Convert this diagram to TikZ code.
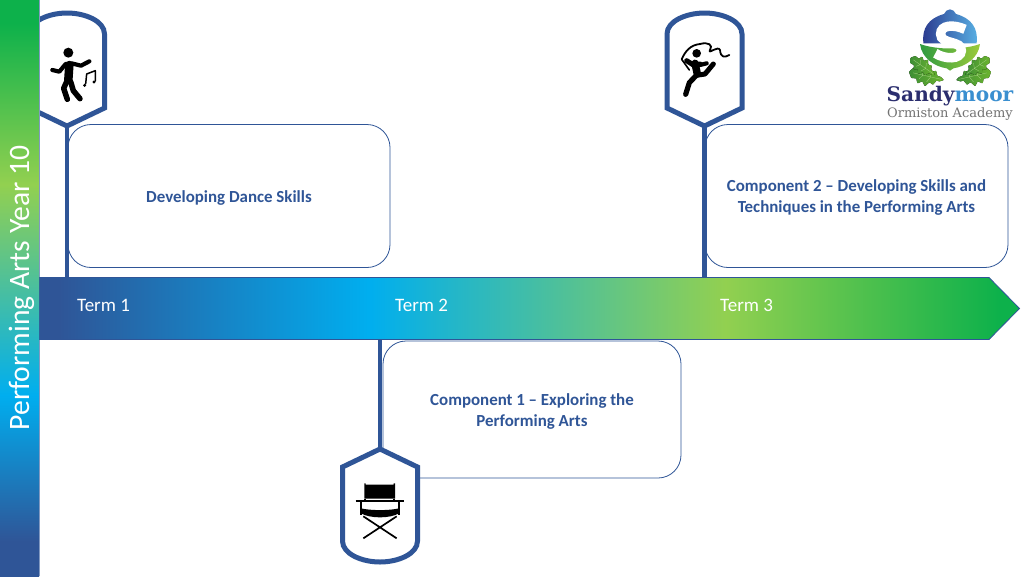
\documentclass[tikz,border=0pt]{standalone}
\usepackage{fontspec}
\setmainfont{Carlito}
\newfontfamily\logofont{DejaVu Serif}
\usetikzlibrary{calc}
\definecolor{navy}{HTML}{2F5597}
\definecolor{cyanb}{HTML}{00AEEF}
\definecolor{limeb}{HTML}{92D050}
\definecolor{greenb}{HTML}{0DB14B}
\definecolor{capdark}{HTML}{2B3A8F}
\definecolor{caplight}{HTML}{58B0E4}
\definecolor{cupdark}{HTML}{2E9A40}
\definecolor{cuplight}{HTML}{9CCB3B}
\definecolor{leafdark}{HTML}{3E8E35}
\definecolor{leaflight}{HTML}{6BB42F}
\pgfdeclarehorizontalshading{arrowshade}{100bp}{color(0bp)=(navy); color(26bp)=(navy); color(41.8bp)=(cyanb); color(60bp)=(limeb); color(74bp)=(greenb); color(100bp)=(greenb)}
\pgfdeclareverticalshading{barshade}{100bp}{color(0bp)=(navy); color(28bp)=(navy); color(40.7bp)=(cyanb); color(59bp)=(limeb); color(73bp)=(greenb); color(100bp)=(greenb)}
\tikzset{
  infobox/.style={draw=navy,line width=0.8pt,rounded corners=23pt,fill=white,minimum width=#1,inner sep=0pt},
  infotext/.style={text=navy,align=center,font=\fontsize{16.9}{21}\selectfont\bfseries},
  stem/.style={draw=navy,line width=4.5pt},
  badge/.style={draw=navy,line width=5pt,fill=white,line join=miter},
  termlabel/.style={text=white,font=\fontsize{19}{22}\selectfont,anchor=west,inner sep=0pt},
  ink/.style={line cap=round,line join=round,draw=black},
  zoomed/.style={x=0.33333pt,y=-0.33333pt},
}
\newcommand{\badgeoutline}{(0,0)--(37.5,-18)--(37.5,-92) .. controls (37.5,-105) and (18,-113) .. (0,-113) .. controls (-18,-113) and (-37.5,-105) .. (-37.5,-92)--(-37.5,-18)--cycle}
% leaf in local zoom units, along +x
\newcommand{\oakleaf}{%
  \fill[left color=leafdark,right color=leaflight,rounded corners=0.7pt]
   (0,0)--(12,-7)--(20,-6)--(27,-20)--(38,-15)--(48,-29)--(58,-17)--(70,-26)--(76,-13)--(90,-15)--(100,0)
   --(90,15)--(76,13)--(70,26)--(58,17)--(48,29)--(38,15)--(27,20)--(20,6)--(12,7)--cycle;
  \draw[leaflight!60!white,line width=0.3pt] (8,0)--(88,0) (38,0)--(46,-16) (38,0)--(46,16) (60,0)--(68,-12) (60,0)--(68,12);}
\begin{document}
\begin{tikzpicture}[x=1pt,y=-1pt]
\useasboundingbox (0,0) rectangle (1024,576);
\fill[white] (0,0) rectangle (1024,576);

% text boxes
\node[infobox=322pt,minimum height=143pt] (dance) at (229,196) {};
\node[infobox=303pt,minimum height=143pt] (comp2) at (856.5,196) {};
\node[infobox=298pt,minimum height=137pt] (comp1) at (532,409.5) {};
\node[infotext] (dancet) at (229,197.5) {Developing Dance Skills};
\node[infotext] (comp2t) at (856.5,197) {Component 2 – Developing Skills and\\Techniques in the Performing Arts};
\node[infotext] (comp1t) at (532,411) {Component 1 – Exploring the\\Performing Arts};

% badge tips and their feet on the arrow
\coordinate (tipA) at (67,126);
\coordinate (tipB) at (704.5,126);
\coordinate (tipC) at (380,449);
\coordinate (footA) at (67,277);
\coordinate (footB) at (704.5,277);
\coordinate (footC) at (380,339);
\draw[stem] (tipA)--(footA);
\draw[stem] (tipB)--(footB);
\draw[stem] (tipC)--(footC);

% timeline arrow
\path[shading=arrowshade,draw=navy,line width=0.8pt] (39,277.5)--(989,277.5)--(1019.5,308.5)--(989,339.5)--(39,339.5)--cycle;
\node[termlabel] (t1) at (77,305.5) {Term 1};
\node[termlabel] (t2) at (395,305.5) {Term 2};
\node[termlabel] (t3) at (720,305.5) {Term 3};

% badges
\begin{scope}[shift={(tipA)}]\path[badge] \badgeoutline;\end{scope}
\begin{scope}[shift={(tipB)}]\path[badge] \badgeoutline;\end{scope}
\begin{scope}[shift={(tipC)},yscale=-1]\path[badge] \badgeoutline;\end{scope}

% side bar
\path[shading=barshade] (0,0) rectangle (39,576);
\draw[navy!60,line width=0.5pt] (39,0)--(39,277) (39,340)--(39,576);
\node[text=white,rotate=90,font=\fontsize{29.6}{32}\selectfont,inner sep=0pt] (title) at (21.5,288) {Performing Arts Year 10};

% dancer
\begin{scope}[zoomed]
\fill (205,158) circle (15);
\draw[ink,line width=8.5pt] (208,195)--(205,240);
\draw[ink,line width=4.2pt] (197,192)--(178,215)--(157,210);
\draw[ink,line width=4.2pt] (215,190)--(243,197)--(268,184);
\draw[ink,line width=5.5pt] (200,245)--(191,265)--(202,298);
\draw[ink,line width=5.5pt] (212,245)--(220,272)--(240,296);
\draw[ink,line width=1.5pt] (257,252)--(260,222)--(286,212)--(286,243);
\fill (254,256) circle (5);
\fill (282,246) circle (5);
\end{scope}

% gymnast
\begin{scope}[shift={(650,0)},zoomed]
\fill (140,160) circle (13);
\draw[ink,line width=1.8pt] (95,178) .. controls (105,155) and (120,135) .. (150,132) .. controls (175,125) and (190,135) .. (180,150) .. controls (172,165) and (205,135) .. (210,150) .. controls (212,175) and (225,172) .. (238,165);
\draw[ink,line width=1.6pt] (95,178)--(118,210);
\draw[ink,line width=5pt] (110,182)--(130,195)--(150,192);
\draw[ink,line width=7.5pt] (135,190)--(142,222);
\draw[ink,line width=4.2pt] (150,195)--(170,190);
\draw[ink,line width=5pt] (145,225)--(165,222)--(190,192);
\draw[ink,line width=5.2pt] (140,225)--(118,248)--(107,283);
\end{scope}

% director's chair
\begin{scope}[shift={(330,440)},zoomed]
\fill[black] (103,130)--(107,130)--(107,134)--(191,134)--(191,130)--(195,130)--(195,176)--(103,176)--cycle;
\draw[line width=2pt] (77,184)--(223,184);
\draw[line width=1.8pt] (93,185)--(93,226) (207,185)--(207,226);
\fill (93,205) .. controls (120,212) and (180,212) .. (207,205)--(207,220) .. controls (180,236) and (120,236) .. (93,220)--cycle;
\draw[line width=1.8pt] (105,176)--(105,186) (193,176)--(193,186);
\draw[line width=1.7pt] (100,229)--(200,295) (200,229)--(100,295);
\end{scope}

% logo
\begin{scope}[shift={(870,0)},zoomed]
\path[left color=capdark,right color=caplight] (160,130) .. controls (155,85) and (175,55) .. (222,42) .. controls (225,35) and (232,28) .. (240,28) .. controls (248,28) and (255,35) .. (258,42) .. controls (305,55) and (325,85) .. (320,130)--cycle;
\path[left color=cupdark,right color=cuplight] (150,132) .. controls (200,150) and (280,150) .. (330,132) .. controls (325,175) and (285,200) .. (250,205)--(240,212)--(230,205) .. controls (195,200) and (155,175) .. (150,132)--cycle;
\draw[white,line width=9.5pt] (285,88) .. controls (250,72) and (212,75) .. (212,102) .. controls (212,135) and (276,120) .. (274,152) .. controls (272,180) and (225,178) .. (196,160);
\begin{scope}[shift={(222,240)},rotate=167,scale=1.08]\oakleaf\end{scope}
\begin{scope}[shift={(195,225)},rotate=145,scale=0.9]\oakleaf\end{scope}
\begin{scope}[shift={(258,240)},rotate=13,scale=1.08]\oakleaf\end{scope}
\begin{scope}[shift={(285,225)},rotate=35,scale=0.9]\oakleaf\end{scope}
\end{scope}
\node[inner sep=0pt,font=\logofont\bfseries\fontsize{20.1}{22}\selectfont] (logoname) at (950,96.5) {\textcolor[HTML]{2B2E6E}{Sandy}\textcolor[HTML]{3A8FD0}{moor}};
\node[inner sep=0pt,text=black!55,font=\logofont\fontsize{13}{15}\selectfont] (logosub) at (950,114.5) {Ormiston Academy};
\end{tikzpicture}
\end{document}
